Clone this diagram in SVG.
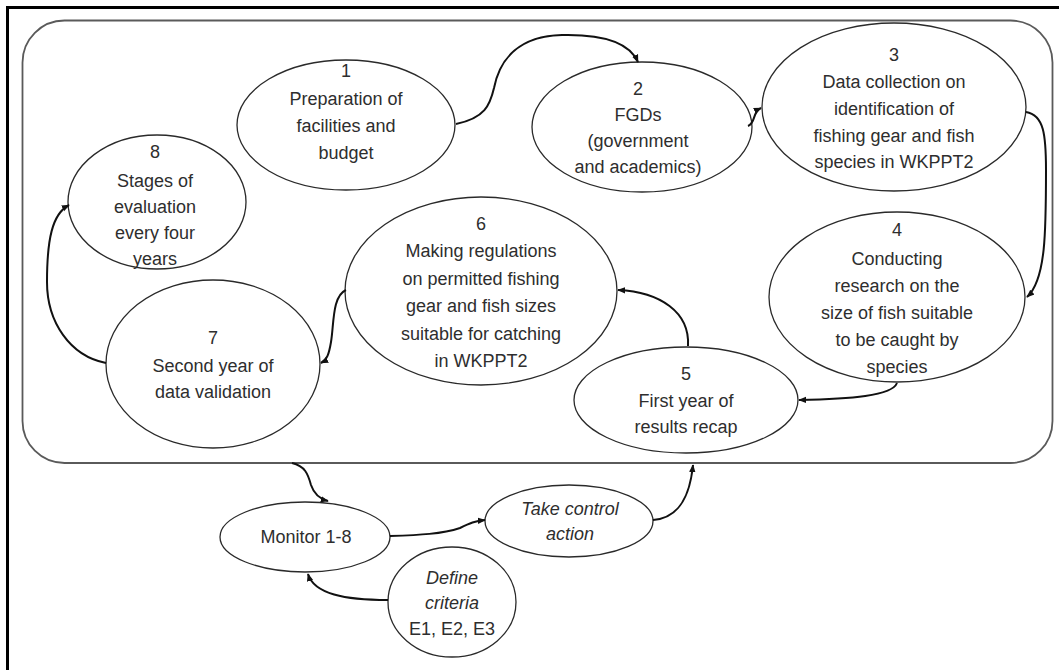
<svg xmlns="http://www.w3.org/2000/svg" width="1059" height="670" viewBox="0 0 1059 670">
  <style>
    .node ellipse { fill: #ffffff; stroke: #2a2a2a; stroke-width: 1.3; }
    .node text { font-family: "Liberation Sans", Arial, sans-serif; font-size: 18px; fill: #2e2e2e; text-anchor: middle; }
    .node text.it { font-style: italic; }
    .conn path { fill: none; stroke: #111111; stroke-width: 2; marker-end: url(#arrow); }
    .frame { fill: none; stroke: #000000; stroke-width: 3; }
    .panel { fill: #ffffff; stroke: #5a5a5a; stroke-width: 1.8; }
  </style>
  <defs>
    <marker id="arrow" viewBox="0 0 10 10" refX="9" refY="5" markerWidth="4" markerHeight="4" orient="auto" markerUnits="strokeWidth">
      <path d="M0,1 L10,5 L0,9 z" fill="#111111"/>
    </marker>
  </defs>

  <rect width="1059" height="670" fill="#ffffff"/>
  <!-- page border: top and left edges only -->
  <path class="frame" d="M7.5,670 L7.5,7.5 L1059,7.5"/>

  <!-- process panel -->
  <rect class="panel" x="22.5" y="20.5" width="1030" height="442.5" rx="42" ry="42"/>

  <g id="node-1" class="node">
    <ellipse cx="346" cy="125" rx="109" ry="65"/>
    <text x="346" y="77">1</text>
    <text x="346" y="105">Preparation of</text>
    <text x="346" y="132">facilities and</text>
    <text x="346" y="159">budget</text>
  </g>

  <g id="node-2" class="node">
    <ellipse cx="642" cy="127" rx="110" ry="65"/>
    <text x="638" y="95">2</text>
    <text x="638" y="121">FGDs</text>
    <text x="638" y="147">(government</text>
    <text x="638" y="173">and academics)</text>
  </g>

  <g id="node-3" class="node">
    <ellipse cx="894" cy="107" rx="132" ry="84"/>
    <text x="894" y="61">3</text>
    <text x="894" y="88">Data collection on</text>
    <text x="894" y="115">identification of</text>
    <text x="894" y="142">fishing gear and fish</text>
    <text x="894" y="168">species in WKPPT2</text>
  </g>

  <g id="node-4" class="node">
    <ellipse cx="897" cy="297" rx="128" ry="85"/>
    <text x="897" y="236">4</text>
    <text x="897" y="265">Conducting</text>
    <text x="897" y="292">research on the</text>
    <text x="897" y="319">size of fish suitable</text>
    <text x="897" y="346">to be caught by</text>
    <text x="897" y="373">species</text>
  </g>

  <g id="node-5" class="node">
    <ellipse cx="686" cy="400" rx="112" ry="53"/>
    <text x="686" y="380">5</text>
    <text x="686" y="407">First year of</text>
    <text x="686" y="433">results recap</text>
  </g>

  <g id="node-6" class="node">
    <ellipse cx="481" cy="291" rx="136" ry="94"/>
    <text x="481" y="230">6</text>
    <text x="481" y="257">Making regulations</text>
    <text x="481" y="285">on permitted fishing</text>
    <text x="481" y="312">gear and fish sizes</text>
    <text x="481" y="340">suitable for catching</text>
    <text x="481" y="367">in WKPPT2</text>
  </g>

  <g id="node-7" class="node">
    <ellipse cx="213" cy="364" rx="107" ry="84"/>
    <text x="213" y="344">7</text>
    <text x="213" y="372">Second year of</text>
    <text x="213" y="398">data validation</text>
  </g>

  <g id="node-8" class="node">
    <ellipse cx="157" cy="202" rx="89" ry="67"/>
    <text x="155" y="158">8</text>
    <text x="155" y="187">Stages of</text>
    <text x="155" y="213">evaluation</text>
    <text x="155" y="239">every four</text>
    <text x="155" y="265">years</text>
  </g>

  <g id="node-monitor" class="node">
    <ellipse cx="305" cy="537" rx="85" ry="35"/>
    <text x="306" y="543">Monitor 1-8</text>
  </g>

  <g id="node-control" class="node">
    <ellipse cx="569" cy="521" rx="84" ry="36"/>
    <text class="it" x="570" y="515">Take control</text>
    <text class="it" x="570" y="540">action</text>
  </g>

  <g id="node-criteria" class="node">
    <ellipse cx="452" cy="602" rx="64" ry="55"/>
    <text class="it" x="452" y="584">Define</text>
    <text class="it" x="452" y="609">criteria</text>
    <text x="452" y="635">E1, E2, E3</text>
  </g>

  <g id="connectors" class="conn">
    <!-- 1 to 2 -->
    <path d="M456,124 C485,118 490,105 494,88 C500,58 520,36 562,35 C605,34 630,44 638,62"/>
    <!-- 2 to 3 -->
    <path d="M748,126 C756,123 752,112 761,108"/>
    <!-- 3 to 4 -->
    <path d="M1026,112 C1044,115 1046,135 1046,170 C1046,230 1046,280 1027,297"/>
    <!-- 4 to 5 -->
    <path d="M897,383 C892,396 850,399 799,400"/>
    <!-- 5 to 6 -->
    <path d="M688,346 C690,312 660,292 618,290"/>
    <!-- 6 to 7 -->
    <path d="M346,290 C332,296 334,325 331,342 C329,354 327,360 321,363"/>
    <!-- 7 to 8 -->
    <path d="M106,363 C70,356 47,322 47,282 C47,240 52,214 69,205"/>
    <!-- panel to monitor -->
    <path d="M292,463 C305,466 308,474 311,485 C314,494 320,499 328,501"/>
    <!-- monitor to take control action -->
    <path d="M390,536 C420,535 442,534 460,528 C470,523 475,521 485,520"/>
    <!-- take control action back to panel -->
    <path d="M653,520 C680,518 690,495 693,465"/>
    <!-- criteria to monitor -->
    <path d="M388,600 C345,600 314,594 308,574"/>
  </g>
</svg>
